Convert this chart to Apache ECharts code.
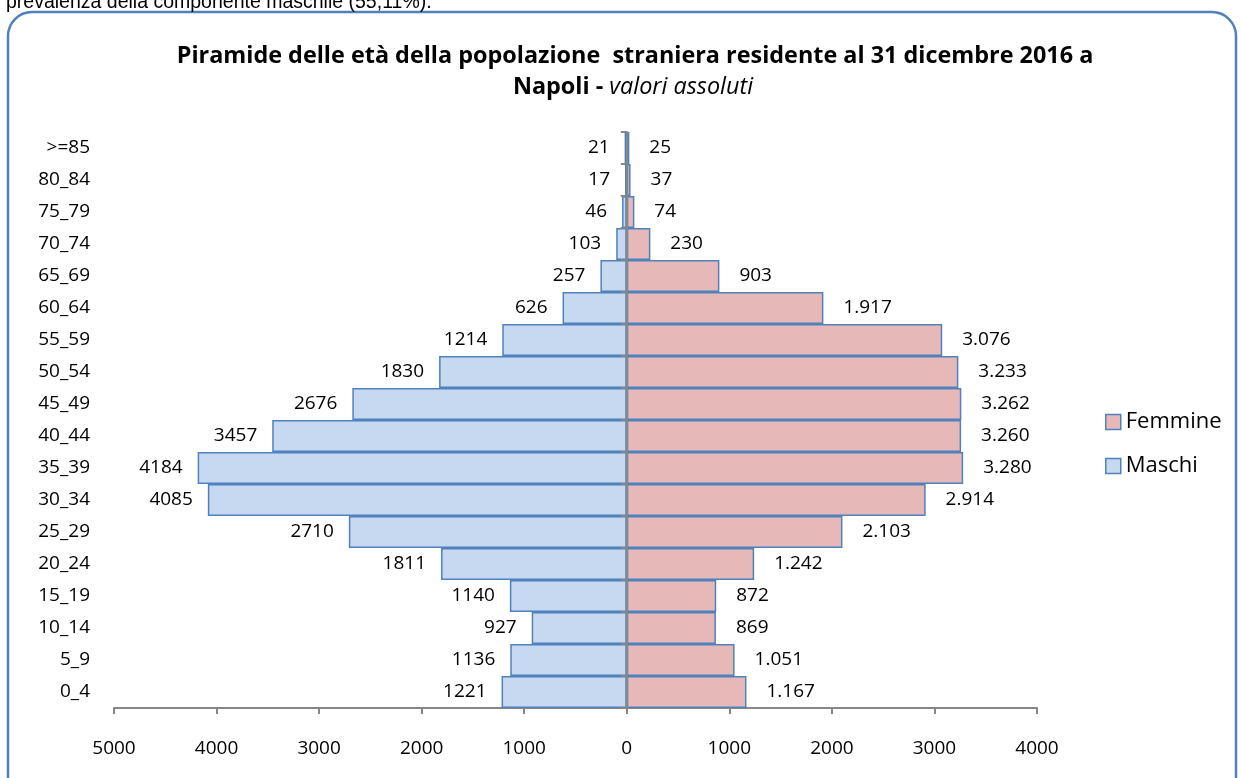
<!DOCTYPE html>
<html><head><meta charset="utf-8">
<script src="https://cdn.jsdelivr.net/npm/echarts@6/dist/echarts.min.js"></script>
<style>html,body{margin:0;padding:0;background:#fff}#c{width:1241px;height:778px}</style>
</head><body><div id="c"></div>
<script>
// Data (bottom to top)
var categories = ['0_4','5_9','10_14','15_19','20_24','25_29','30_34','35_39','40_44','45_49','50_54','55_59','60_64','65_69','70_74','75_79','80_84','>=85'];
var maschi  = [1221,1136,927,1140,1811,2710,4085,4184,3457,2676,1830,1214,626,257,103,46,17,21];
var femmine = [1167,1051,869,872,1242,2103,2914,3280,3260,3262,3233,3076,1917,903,230,74,37,25];
var xTicks = {min:-5000, max:4000, interval:1000};

var FONT = "'Open Sans', 'Noto Sans', sans-serif";
var FONT2 = "'Liberation Sans', Arial, sans-serif";
function itFmt(v){ return String(Math.abs(v)).replace(/\B(?=(\d{3})+(?!\d))/g,'.'); }

var chart = echarts.init(document.getElementById('c'), null, {renderer:'canvas'});
chart.setOption({
  animation:false,
  backgroundColor:'#fff',
  textStyle:{fontFamily:FONT},
  graphic:[
    {type:'rect', shape:{x:8,y:12,width:1228,height:800,r:24}, style:{fill:'none',stroke:'#4F81BD',lineWidth:2.5}, z:-1},
    {type:'text', x:6, y:-7, style:{text:'prevalenza della componente maschile (55,11%).', font:'19.5px '+FONT2, fill:'#000'}},
    {type:'text', x:635, y:45, style:{text:'Piramide delle età della popolazione  straniera residente al 31 dicembre 2016 a', font:'bold 23.4px '+FONT, fill:'#000', textAlign:'center'}},
    {type:'text', x:633, y:76, style:{text:'{b|Napoli - }{i|valori assoluti}', textAlign:'center', rich:{b:{font:'bold 23.4px '+FONT, fill:'#000'}, i:{font:'italic 23.4px '+FONT, fill:'#000'}}}}
  ],
  legend:{
    orient:'vertical', left:1100, top:406, itemWidth:15, itemHeight:15, itemGap:22,
    data:['Femmine','Maschi'], icon:'rect',
    textStyle:{fontSize:22, color:'#000', fontFamily:FONT},
    itemStyle:{borderColor:'#4F81BD', borderWidth:1.5}
  },
  grid:{left:114, right:204, top:132, bottom:70, containLabel:false},
  xAxis:{
    type:'value', min:xTicks.min, max:xTicks.max, interval:xTicks.interval,
    splitLine:{show:false},
    axisLine:{show:true, onZero:false, lineStyle:{color:'#868686', width:2}},
    axisTick:{show:true, length:6, lineStyle:{color:'#868686', width:2}},
    axisLabel:{fontSize:19, color:'#000', margin:31, formatter:function(v){return String(Math.abs(v));}}
  },
  yAxis:[
    {type:'category', data:categories, position:'left',
     axisLine:{show:false, onZero:false}, axisTick:{show:false},
     axisLabel:{fontSize:19, color:'#000', margin:24, align:'right'}},
    {type:'category', data:categories, position:'left', z:5,
     axisLine:{show:true, onZero:true, lineStyle:{color:'#868686', width:2}},
     axisTick:{show:true, length:6, lineStyle:{color:'#868686', width:2}},
     axisLabel:{show:false}}
  ],
  series:[
    {name:'Maschi', type:'bar', yAxisIndex:0, barGap:'-100%', barCategoryGap:'0%',
     data:maschi.map(function(v){return -v;}),
     itemStyle:{color:'#C6D9F1', borderColor:'#4F81BD', borderWidth:1.5},
     label:{show:true, position:'left', distance:15, fontSize:19, color:'#000', formatter:function(p){return String(Math.abs(p.value));}}},
    {name:'Femmine', type:'bar', yAxisIndex:0, barGap:'-100%', barCategoryGap:'0%',
     data:femmine,
     itemStyle:{color:'#E6B9B8', borderColor:'#4F81BD', borderWidth:1.5},
     label:{show:true, position:'right', distance:20, fontSize:19, color:'#000', formatter:function(p){return itFmt(p.value);}}}
  ]
});
</script></body></html>
